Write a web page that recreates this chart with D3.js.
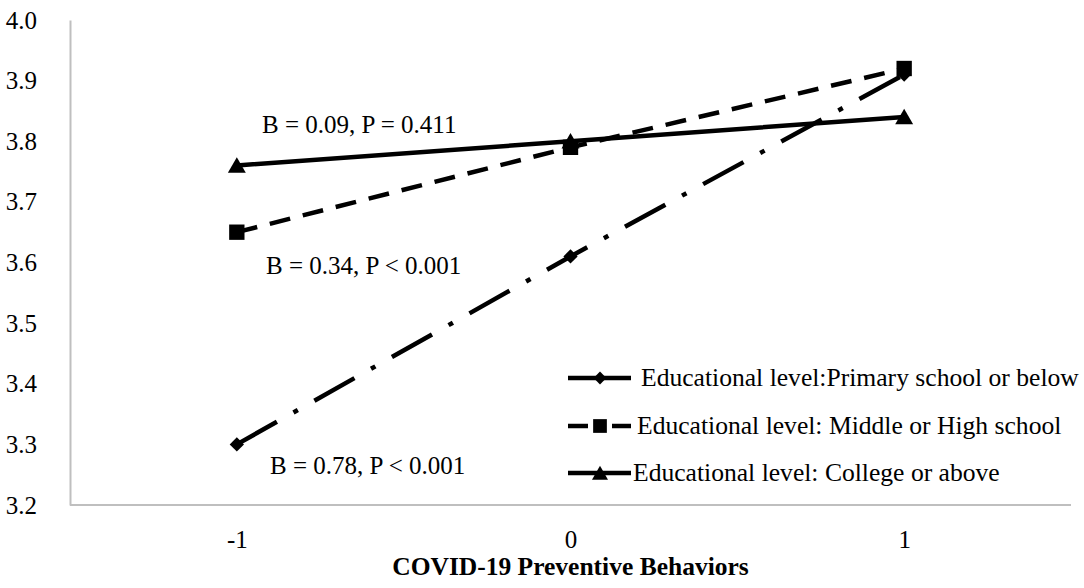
<!DOCTYPE html>
<html>
<head>
<meta charset="utf-8">
<script src="https://cdn.jsdelivr.net/npm/d3@7"></script>
<style>
  body { margin: 0; background: #fff; }
  text { font-family: "Liberation Serif", "Times New Roman", serif; fill: #000; }
</style>
</head>
<body>
<div id="chart"></div>
<script>
// data
var categories = ["-1", "0", "1"];
var yTicks = [3.2, 3.3, 3.4, 3.5, 3.6, 3.7, 3.8, 3.9, 4.0];
var primaryValues = [3.30, 3.61, 3.91];
var middleValues = [3.65, 3.79, 3.92];
var collegeValues = [3.76, 3.80, 3.84];
var seriesNames = [
  "Educational level:Primary school or below",
  "Educational level: Middle or High school",
  "Educational level: College or above"
];
var annotations = ["B = 0.09, P = 0.411", "B = 0.34, P < 0.001", "B = 0.78, P < 0.001"];

var width = 1084, height = 588;
var margin = {top: 20, right: 13, bottom: 83, left: 70};

var svg = d3.select("#chart")
  .append("svg")
    .attr("width", width)
    .attr("height", height);

var x = d3.scalePoint()
  .domain(categories)
  .range([margin.left, width - margin.right])
  .padding(0.5);

var y = d3.scaleLinear()
  .domain([3.2, 4.0])
  .range([height - margin.bottom, margin.top]);

// axes
var yAxis = svg.append("g")
  .attr("transform", "translate(" + margin.left + ",0)")
  .call(d3.axisLeft(y).tickValues(yTicks).tickFormat(d3.format(".1f")).tickSize(0).tickPadding(33));
yAxis.select(".domain").attr("stroke", "#bfbfbf").attr("stroke-width", 2);
yAxis.selectAll("text").attr("font-size", 25).attr("font-family", "Liberation Serif");

var xAxis = svg.append("g")
  .attr("transform", "translate(0," + y(3.2) + ")")
  .call(d3.axisBottom(x).tickSize(0).tickPadding(25));
xAxis.select(".domain").attr("stroke", "#bfbfbf").attr("stroke-width", 2)
  .attr("d", "M" + margin.left + ",0H" + (width - margin.right));
xAxis.selectAll("text").attr("font-size", 25).attr("font-family", "Liberation Serif");

svg.append("text")
  .attr("x", x("0"))
  .attr("y", 575)
  .attr("text-anchor", "middle")
  .attr("font-size", 25.5)
  .attr("font-weight", "bold")
  .text("COVID-19 Preventive Behaviors");

var series = [
  {name: seriesNames[0], values: primaryValues, dash: "46,19,5,19", marker: "diamond"},
  {name: seriesNames[1], values: middleValues, dash: "21,13", marker: "square"},
  {name: seriesNames[2], values: collegeValues, dash: null, marker: "triangle"}
];

var line = d3.line()
  .x(function (d, i) { return x(categories[i]); })
  .y(function (d) { return y(d); });

var symbolType = {
  diamond: d3.symbolDiamond2,
  square: d3.symbolSquare2,
  triangle: d3.symbolTriangle2
};
var symbolSize = {diamond: 130, square: 300, triangle: 230};

function drawMarker(g, type, cx, cy, scale) {
  var s = d3.symbol().type(symbolType[type]).size(symbolSize[type] * scale);
  var dy = type === "triangle" ? 2 : 0;
  g.append("path")
    .attr("d", s())
    .attr("transform", "translate(" + cx + "," + (cy + dy) + ")")
    .attr("fill", "#000");
}

series.forEach(function (s) {
  svg.append("path")
    .datum(s.values)
    .attr("fill", "none")
    .attr("stroke", "#000")
    .attr("stroke-width", 4.5)
    .attr("stroke-dasharray", s.dash)
    .attr("d", line);
});

series.forEach(function (s) {
  s.values.forEach(function (v, i) {
    drawMarker(svg, s.marker, x(categories[i]), y(v), 1);
  });
});

// annotations
var annoPos = [[262, 133], [266, 274], [270, 474]];
annotations.forEach(function (t, i) {
  svg.append("text")
    .attr("x", annoPos[i][0])
    .attr("y", annoPos[i][1])
    .attr("font-size", 25)
    .text(t);
});

// legend
var legend = svg.append("g");
var legendRows = [378, 426, 473];
var legendTextX = [641, 637, 633];
series.forEach(function (s, i) {
  var ly = legendRows[i];
  if (i === 1) {
    legend.append("line").attr("x1", 568).attr("x2", 588).attr("y1", ly).attr("y2", ly)
      .attr("stroke", "#000").attr("stroke-width", 4.5);
    legend.append("line").attr("x1", 612).attr("x2", 631).attr("y1", ly).attr("y2", ly)
      .attr("stroke", "#000").attr("stroke-width", 4.5);
  } else {
    legend.append("line").attr("x1", 568).attr("x2", 631).attr("y1", ly).attr("y2", ly)
      .attr("stroke", "#000").attr("stroke-width", 4.5);
  }
  drawMarker(legend, s.marker, 600, ly, 0.8);
  legend.append("text")
    .attr("x", legendTextX[i])
    .attr("y", ly + 8)
    .attr("font-size", 25.6)
    .text(s.name);
});
</script>
</body>
</html>
